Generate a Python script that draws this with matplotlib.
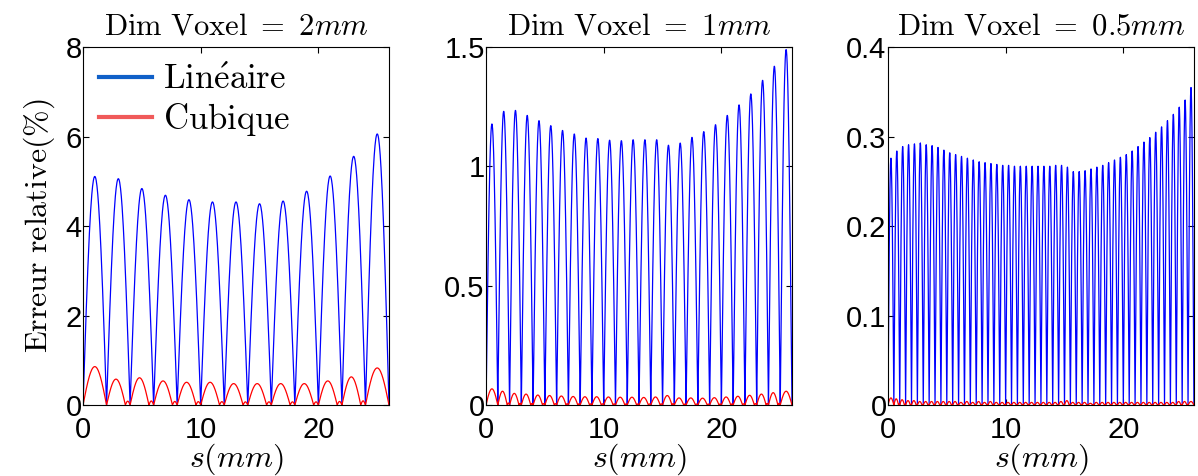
import matplotlib.pyplot as plt
import numpy as np
from matplotlib.lines import Line2D
from matplotlib.ticker import FormatStrFormatter

plt.rcParams['mathtext.fontset'] = 'cm'
plt.rcParams['font.family'] = ['Liberation Sans', 'DejaVu Sans']

# peak height of each arch (%)
blue_2mm = [5.11, 5.06, 4.84, 4.69, 4.59, 4.54, 4.54, 4.50, 4.56, 4.78, 5.12, 5.56, 6.06]
red_2mm = [0.86, 0.58, 0.61, 0.54, 0.51, 0.51, 0.48, 0.48, 0.48, 0.48, 0.54, 0.63, 0.83]

blue_1mm = [1.178, 1.231, 1.235, 1.214, 1.192, 1.171, 1.151, 1.136, 1.119, 1.117,
            1.110, 1.108, 1.112, 1.112, 1.112, 1.089, 1.098, 1.122, 1.146, 1.175,
            1.214, 1.258, 1.304, 1.361, 1.420, 1.490]
red_1mm = [0.068, 0.058, 0.049, 0.046, 0.042, 0.040, 0.038, 0.036, 0.035, 0.035,
           0.034, 0.033, 0.033, 0.032, 0.034, 0.040, 0.030, 0.030, 0.029, 0.031,
           0.034, 0.037, 0.041, 0.046, 0.052, 0.058]

blue_05mm = [0.276, 0.284, 0.289, 0.291, 0.292, 0.293, 0.291, 0.290, 0.288, 0.285,
             0.282, 0.280, 0.278, 0.276, 0.274, 0.272, 0.271, 0.270, 0.269, 0.268,
             0.268, 0.267, 0.267, 0.267, 0.267, 0.267, 0.267, 0.267, 0.268, 0.268,
             0.266, 0.261, 0.261, 0.262, 0.264, 0.266, 0.268, 0.271, 0.274, 0.277,
             0.280, 0.284, 0.289, 0.294, 0.299, 0.305, 0.311, 0.318, 0.325, 0.333,
             0.341, 0.355]
red_05mm = [0.008, 0.007, 0.006, 0.005, 0.005, 0.004, 0.004, 0.004, 0.004, 0.004,
            0.004, 0.004, 0.003, 0.004, 0.003, 0.004, 0.003, 0.004, 0.003, 0.003,
            0.003, 0.003, 0.003, 0.003, 0.003, 0.003, 0.003, 0.003, 0.003, 0.004,
            0.005, 0.003, 0.003, 0.003, 0.002, 0.003, 0.003, 0.003, 0.003, 0.003,
            0.003, 0.003, 0.003, 0.003, 0.003, 0.003, 0.003, 0.003, 0.003, 0.004,
            0.004, 0.004]

titles = [r'$\mathrm{Dim\ Voxel}\ =\ 2mm$', r'$\mathrm{Dim\ Voxel}\ =\ 1mm$',
          r'$\mathrm{Dim\ Voxel}\ =\ 0.5mm$']
ylims = [8, 1.5, 0.4]
yticks = [[0, 2, 4, 6, 8], [0, 0.5, 1, 1.5], [0, 0.1, 0.2, 0.3, 0.4]]


def arches(peaks, period, n=60):
    xs, ys = [], []
    for i, p in enumerate(peaks):
        t = np.linspace(0, 1, n)
        xs.append(i * period + t * period)
        ys.append(p * np.sin(np.pi * t))
    return np.concatenate(xs), np.concatenate(ys)


def red_arches(peaks, period, n=60):
    # main hump then a small ripple before the next node
    xs, ys = [], []
    last = len(peaks) - 1
    for i, p in enumerate(peaks):
        t = np.linspace(0, 1, n)
        if i in (0, last):
            y = p * np.sin(np.pi * t)
        else:
            y = np.where(t < 0.8, p * np.sin(np.pi * np.clip(t / 0.8, 0, 1)),
                         0.15 * p * np.sin(np.pi * (t - 0.8) / 0.2))
        xs.append(i * period + t * period)
        ys.append(np.abs(y))
    return np.concatenate(xs), np.concatenate(ys)


series = [(blue_2mm, red_2mm, 2.0), (blue_1mm, red_1mm, 1.0), (blue_05mm, red_05mm, 0.5)]
lefts = [0.0693, 0.4057, 0.7412]

fig = plt.figure(figsize=(11.98, 4.76), dpi=100)
for k, (blue, red, period) in enumerate(series):
    ax = fig.add_axes([lefts[k], 0.149, 0.2554, 0.752])
    bx, by = arches(blue, period)
    rx, ry = red_arches(red, period)
    ax.plot(bx, by, color='#0000ff', lw=0.9)
    ax.plot(rx, ry, color='#ff0000', lw=0.9)
    ax.set_xlim(0, 26)
    ax.set_ylim(0, ylims[k])
    ax.set_xticks([0, 10, 20])
    ax.set_yticks(yticks[k])
    ax.yaxis.set_major_formatter(FormatStrFormatter('%g'))
    ax.tick_params(direction='in', top=True, right=True, labelsize=21, length=4)
    ax.tick_params(axis='x', pad=8)
    ax.tick_params(axis='y', pad=1)
    for s in ax.spines.values():
        s.set_linewidth(0.8)
    ax.set_title(titles[k], fontsize=22, pad=9)
    ax.set_xlabel(r'$s(mm)$', fontsize=23, labelpad=-2)
    if k == 0:
        ax.set_ylabel(r'$\mathrm{Erreur\ relative(\%)}$', fontsize=23, labelpad=6)
        handles = [Line2D([], [], color='#1060c8', lw=3),
                   Line2D([], [], color='#f05a5a', lw=3)]
        ax.legend(handles, [r'$\mathrm{Lin\acute{e}aire}$', r'$\mathrm{Cubique}$'],
                  loc='upper left', frameon=False, fontsize=25, handlelength=1.55,
                  borderaxespad=0.05, handletextpad=0.3, labelspacing=0.15)

fig.savefig('out.png', dpi=100)
